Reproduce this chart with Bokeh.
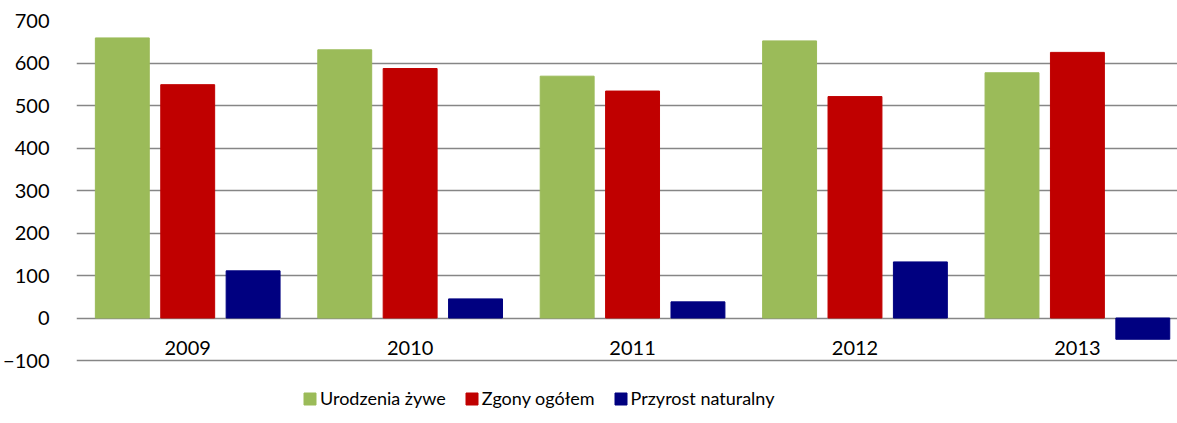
from bokeh.plotting import figure
from bokeh.models import Range1d, FixedTicker, Legend, LegendItem, ColumnDataSource
from bokeh.core.properties import value
from bokeh.embed import file_html
from bokeh.resources import INLINE

years = ["2009", "2010", "2011", "2012", "2013"]
births = [659, 631, 569, 652, 577]
deaths = [549, 587, 534, 521, 625]
growth = [111, 45, 38, 132, -50]
series_names = ["Urodzenia żywe", "Zgony ogółem", "Przyrost naturalny"]
colors = ["#9BBB59", "#C00000", "#000080"]
y_ticks = [-100, 0, 100, 200, 300, 400, 500, 600, 700]

FONT = "Lato"
FS = "20px"
LFS = "18px"

# category centres on a numeric scale: category i spans [i, i+1]
centres = [i + 0.5 for i in range(len(years))]
BAR_W = 0.2424
OFF = 0.294

src = ColumnDataSource(dict(
    year=years, c=centres,
    x_b=[c - OFF for c in centres], x_d=centres, x_g=[c + OFF for c in centres],
    births=births, deaths=deaths, growth=growth,
    lab_y=[-71] * len(years)))

p = figure(width=1177, height=423,
           x_range=Range1d(0, 4.95),
           y_range=Range1d(-248.2, 700),
           output_backend="svg", toolbar_location=None,
           min_border_left=74, min_border_top=20, min_border_bottom=0, min_border_right=0)
p.outline_line_color = None
p.background_fill_color = "white"
p.border_fill_color = "white"

renderers = []
for xcol, col, c in zip(["x_b", "x_d", "x_g"], ["births", "deaths", "growth"], colors):
    r = p.vbar(x=xcol, top=col, bottom=0, width=BAR_W,
               source=src, fill_color=c, line_color=c)
    renderers.append(r)

p.text(x="c", y="lab_y", text="year", source=src, text_align="center",
       text_baseline="middle", text_font=value(FONT), text_font_size=FS, text_color="black")

p.xaxis.visible = False
p.xgrid.visible = False

p.yaxis.ticker = FixedTicker(ticks=y_ticks)
p.yaxis.axis_line_color = None
p.yaxis.major_tick_line_color = None
p.yaxis.minor_tick_line_color = None
p.yaxis.major_label_standoff = 21
p.yaxis.major_label_text_font = FONT
p.yaxis.major_label_text_font_size = FS
p.yaxis.major_label_text_color = "black"
p.ygrid.grid_line_color = "#868686"
p.ygrid.grid_line_width = 1.5

legend = Legend(items=[LegendItem(label=n, renderers=[r]) for n, r in zip(series_names, renderers)],
                orientation="horizontal", location=(226, 14))
legend.padding = 0
legend.margin = 0
legend.spacing = 18
legend.border_line_color = None
legend.background_fill_alpha = 0
legend.glyph_width = 15
legend.glyph_height = 15
legend.label_standoff = 3
legend.label_text_font = FONT
legend.label_text_font_size = LFS
legend.label_text_color = "black"
p.add_layout(legend)

open("out.html", "w").write(file_html(p, INLINE))
